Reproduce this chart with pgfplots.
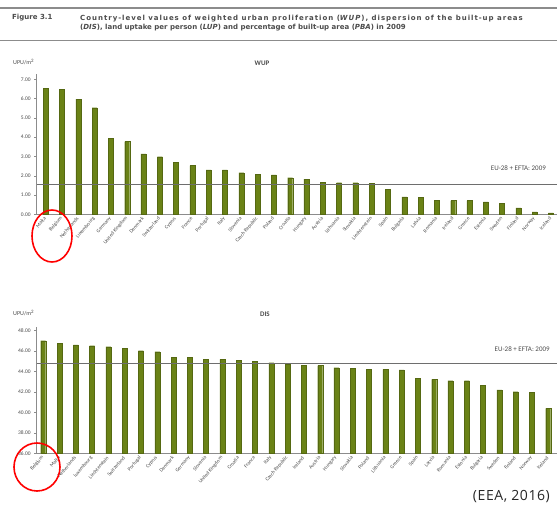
\documentclass[border=0pt]{standalone}
\usepackage{pgfplots}
\pgfplotsset{compat=1.18}
\usepackage{fontspec}
\setmainfont{Carlito}
\newfontfamily\headfont{DejaVu Sans}
\newfontfamily\headfontwide[LetterSpace=14]{DejaVu Sans}
\newfontfamily\srcfont[LetterSpace=4]{Open Sans}
\definecolor{bargreen}{RGB}{106,130,22}
\definecolor{txtgray}{RGB}{75,75,75}
\definecolor{axgray}{RGB}{140,140,140}
\definecolor{refgray}{RGB}{110,110,110}
\pgfplotsset{eeabar/.style={
  scale only axis, ybar, bar width=5pt, bar shift=0pt,
  axis x line*=bottom, axis y line*=left,
  axis line style={axgray, line width=0.6pt},
  xtick={0,...,31},
  xticklabel style={rotate=50, anchor=east, font=\fontsize{5.2}{6}\selectfont, text=txtgray, inner sep=1pt},
  yticklabel style={font=\fontsize{5.5}{6}\selectfont, text=txtgray, /pgf/number format/.cd, fixed, fixed zerofill, precision=2, assume math mode=true},
  xtick style={draw=none},
  ytick style={axgray, line width=0.5pt}, tick align=outside, major tick length=2.5pt,
}}
\begin{document}
\begin{tikzpicture}
\useasboundingbox (0pt,0pt) rectangle (557pt,-517pt);
% header
\draw[line width=1.2pt, axgray] (0pt,-8pt) -- (557pt,-8pt);
\draw[line width=1.2pt, axgray] (0pt,-40.7pt) -- (557pt,-40.7pt);
\node[anchor=west, font=\headfont\bfseries\fontsize{7}{8}\selectfont, text=txtgray, inner sep=0] at (12pt,-17.5pt) {Figure 3.1};
\node[anchor=base west, font=\headfontwide\bfseries\fontsize{7}{8}\selectfont, text=txtgray, inner sep=0] at (80pt,-20pt)
  {Country-level values of weighted urban proliferation (\textit{WUP}), dispersion of the built-up areas};
\node[anchor=base west, font=\headfont\bfseries\fontsize{7}{8}\selectfont, text=txtgray, inner sep=0] at (80pt,-29pt)
  {(\textit{DIS}), land uptake per person (\textit{LUP}) and percentage of built-up area (\textit{PBA}) in 2009};

% ---------- WUP ----------
\begin{axis}[eeabar, at={(36.7pt,-214.3pt)}, anchor=south west,
  width=521.6pt, height=140.7pt,
  xmin=-0.55, xmax=31.45, ymin=0, ymax=7.3,
  ytick={0,1,...,7},
  xticklabels={Malta, Belgium, Netherlands, Luxembourg, Germany, United Kingdom, Denmark, Switzerland, Cyprus, France, Portugal, Italy, Slovenia, Czech Republic, Poland, Croatia, Hungary, Austria, Lithuania, Slovakia, Liechtenstein, Spain, Bulgaria, Latvia, Romania, Ireland, Greece, Estonia, Sweden, Finland, Norway, Iceland},
]
\addplot[fill=bargreen, draw=bargreen!80!black, line width=0.3pt] coordinates {
 (0,6.54) (1,6.50) (2,5.98) (3,5.53) (4,3.94) (5,3.77) (6,3.13) (7,2.99)
 (8,2.70) (9,2.53) (10,2.30) (11,2.30) (12,2.16) (13,2.06) (14,2.04) (15,1.90)
 (16,1.83) (17,1.66) (18,1.64) (19,1.64) (20,1.61) (21,1.30) (22,0.91) (23,0.88)
 (24,0.74) (25,0.71) (26,0.71) (27,0.65) (28,0.57) (29,0.34) (30,0.13) (31,0.08)};
\addplot[sharp plot, refgray, line width=0.6pt, forget plot] coordinates {(-0.55,1.58) (31.45,1.58)};
\node[anchor=east, font=\fontsize{7}{8}\selectfont, text=txtgray, inner sep=0] at (axis cs:30.7,2.4) {EU-28 + EFTA: 2009};
\end{axis}
\node[anchor=west, font=\fontsize{6}{7}\selectfont, text=txtgray, inner sep=0] at (13pt,-62pt) {UPU/m\textsuperscript{2}};
\node[font=\bfseries\fontsize{7}{8}\selectfont, text=txtgray] at (262pt,-63pt) {WUP};

% ---------- DIS ----------
\begin{axis}[eeabar, at={(36.7pt,-453.5pt)}, anchor=south west,
  width=521.3pt, height=126.1pt,
  xmin=-0.4, xmax=31.6, ymin=36, ymax=48.3,
  ytick={36,38,...,48},
  xticklabels={Belgium, Malta, Netherlands, Luxembourg, Liechtenstein, Switzerland, Portugal, Cyprus, Denmark, Germany, Slovenia, United Kingdom, Croatia, France, Italy, Czech Republic, Ireland, Austria, Hungary, Slovakia, Poland, Lithuania, Greece, Spain, Latvia, Romania, Estonia, Bulgaria, Sweden, Finland, Norway, Iceland},
]
\addplot[fill=bargreen, draw=bargreen!80!black, line width=0.3pt] coordinates {
 (0,47.00) (1,46.75) (2,46.59) (3,46.52) (4,46.42) (5,46.26) (6,46.03) (7,45.93)
 (8,45.35) (9,45.35) (10,45.19) (11,45.19) (12,45.12) (13,45.02) (14,44.86) (15,44.73)
 (16,44.63) (17,44.57) (18,44.37) (19,44.31) (20,44.24) (21,44.21) (22,44.15) (23,43.34)
 (24,43.24) (25,43.10) (26,43.10) (27,42.65) (28,42.20) (29,42.03) (30,41.97) (31,40.41)};
\addplot[sharp plot, refgray, line width=0.6pt, forget plot] coordinates {(-0.4,44.80) (31.6,44.80)};
\node[anchor=east, font=\fontsize{7}{8}\selectfont, text=txtgray, inner sep=0] at (axis cs:31.1,46.2) {EU-28 + EFTA: 2009};
\end{axis}
\node[anchor=west, font=\fontsize{6}{7}\selectfont, text=txtgray, inner sep=0] at (13pt,-313pt) {UPU/m\textsuperscript{2}};
\node[font=\bfseries\fontsize{7}{8}\selectfont, text=txtgray] at (265pt,-314pt) {DIS};

% annotations
\draw[red, line width=1.6pt] (52pt,-236pt) ellipse (20pt and 26pt);
\draw[red, line width=1.6pt] (37pt,-467pt) ellipse (23pt and 24pt);
\node[anchor=east, font=\srcfont\fontsize{14}{16}\selectfont, text=black!85, inner sep=0] at (550pt,-497pt) {(EEA, 2016)};
\end{tikzpicture}
\end{document}
